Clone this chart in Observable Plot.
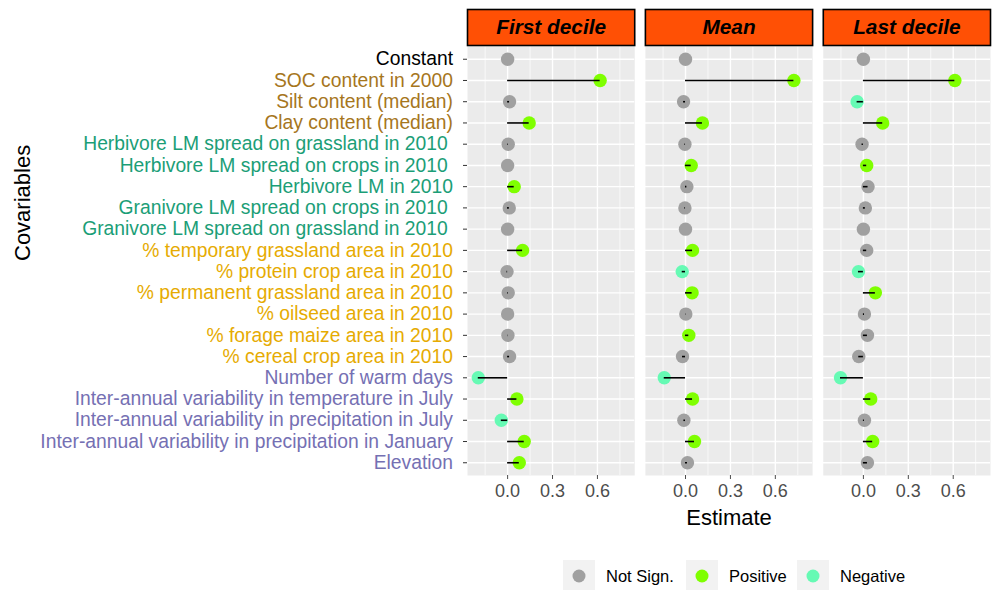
<!DOCTYPE html>
<html>
<head>
<meta charset="utf-8">
<script src="https://cdn.jsdelivr.net/npm/d3@7"></script>
<script src="https://cdn.jsdelivr.net/npm/@observablehq/plot@0.6"></script>
<style>
  html, body { margin: 0; padding: 0; background: #fff; overflow: hidden; }
  #chart svg { overflow: visible; display: block; }
  #legend { position: relative; height: 34px; font-family: "Liberation Sans", Arial, sans-serif; font-size: 16.5px; color: #000; }
  .item { position: absolute; top: 4px; display: flex; align-items: center; }
  .key { width: 32px; height: 32px; background: #F2F2F2; display: flex; align-items: center; justify-content: center; margin-right: 11px; }
</style>
</head>
<body>
<div id="chart"></div>
<div id="legend"></div>
<script>
const facets = ["First decile", "Mean", "Last decile"];

const covariables = [
  "Constant",
  "SOC content in 2000",
  "Silt content (median)",
  "Clay content (median)",
  "Herbivore LM spread on grassland in 2010\u00a0",
  "Herbivore LM spread on crops in 2010\u00a0",
  "Herbivore LM in 2010",
  "Granivore LM spread on crops in 2010\u00a0",
  "Granivore LM spread on grassland in 2010\u00a0",
  "% temporary grassland area in 2010",
  "% protein crop area in 2010",
  "% permanent grassland area in 2010",
  "% oilseed area in 2010",
  "% forage maize area in 2010",
  "% cereal crop area in 2010",
  "Number of warm days",
  "Inter-annual variability in temperature in July",
  "Inter-annual variability in precipitation in July",
  "Inter-annual variability in precipitation in January",
  "Elevation"
];

const covariableGroup = [
  "Constant",
  "Soil", "Soil", "Soil",
  "Livestock", "Livestock", "Livestock", "Livestock", "Livestock",
  "Crop", "Crop", "Crop", "Crop", "Crop", "Crop",
  "Climate", "Climate", "Climate", "Climate", "Climate"
];

const groupNames = ["Constant", "Soil", "Livestock", "Crop", "Climate"];
const groupColors = ["#000000", "#A6761D", "#1B9E77", "#E6AB02", "#7570B3"];

const estimatesFirst = [0.000, 0.618, 0.013, 0.144, 0.004, 0.000, 0.044, 0.011, 0.000, 0.100,
                        -0.004, 0.004, 0.000, 0.002, 0.013, -0.196, 0.062, -0.042, 0.111, 0.078];
const estimatesMean  = [0.000, 0.724, -0.013, 0.113, -0.004, 0.038, 0.009, -0.004, 0.000, 0.047,
                        -0.022, 0.044, 0.002, 0.022, -0.020, -0.142, 0.047, -0.011, 0.060, 0.013];
const estimatesLast  = [0.000, 0.611, -0.042, 0.129, -0.009, 0.022, 0.031, 0.013, 0.000, 0.022,
                        -0.033, 0.080, 0.007, 0.027, -0.031, -0.153, 0.049, 0.007, 0.062, 0.027];

const N = "Not Sign.", P = "Positive", M = "Negative";
const signifFirst = [N, P, N, P, N, N, P, N, N, P, N, N, N, N, N, M, P, M, P, P];
const signifMean  = [N, P, N, P, N, P, N, N, N, P, M, P, N, P, N, M, P, N, P, N];
const signifLast  = [N, P, M, P, N, P, N, N, N, N, M, P, N, N, N, M, P, N, P, N];

const signifLevels = ["Not Sign.", "Positive", "Negative"];
const signifColors = ["#A0A0A0", "#7FFF00", "#66FAB4"];

const xTicks = [0, 0.3, 0.6];
const xMinorTicks = [-0.15, 0.15, 0.45, 0.75];
const xDomain = [-0.268, 0.849];

const estimates = [estimatesFirst, estimatesMean, estimatesLast];
const signifs = [signifFirst, signifMean, signifLast];
const rows = [];
facets.forEach((f, i) => {
  covariables.forEach((c, j) => {
    rows.push({facet: f, covariable: c, estimate: estimates[i][j], signif: signifs[i][j]});
  });
});

const font = "'Liberation Sans', Arial, sans-serif";

const labelMarks = groupNames.map((g, gi) =>
  Plot.text(covariables.filter((c, j) => covariableGroup[j] === g), {
    fx: () => facets[0],
    y: d => d,
    text: d => d,
    frameAnchor: "left",
    textAnchor: "end",
    dx: -14.5,
    fontSize: 19.3,
    fill: groupColors[gi]
  })
);

const chart = Plot.plot({
  width: 992,
  height: 556,
  marginLeft: 467,
  marginRight: 2,
  marginTop: 46,
  marginBottom: 81,
  style: {fontFamily: font, background: "white", overflow: "visible"},
  fx: {domain: facets, paddingInner: 0.06, paddingOuter: 0, round: false, axis: null},
  x: {domain: xDomain, axis: null},
  y: {type: "point", domain: covariables, padding: 0.6, round: false, axis: null},
  color: {domain: signifLevels, range: signifColors},
  marks: [
    Plot.frame({fill: "#EBEBEB", stroke: null}),
    Plot.gridX({ticks: xMinorTicks, stroke: "white", strokeOpacity: 1, strokeWidth: 0.7}),
    Plot.gridX({ticks: xTicks, stroke: "white", strokeOpacity: 1, strokeWidth: 1.4}),
    Plot.gridY({stroke: "white", strokeOpacity: 1, strokeWidth: 1.4}),
    Plot.dot(rows, {fx: "facet", x: "estimate", y: "covariable", fill: "signif", r: 6.7, stroke: null}),
    Plot.ruleY(rows, {fx: "facet", y: "covariable", x1: () => 0, x2: "estimate", stroke: "black", strokeWidth: 1.6}),
    Plot.axisX({ticks: xTicks, tickFormat: d3.format(".1f"), tickSize: 4, tickPadding: 5, fontSize: 18, color: "#4D4D4D", label: null}),
    Plot.axisY({tickSize: 4, tickFormat: () => "", color: "#333333", label: null}),
    ...labelMarks,
    Plot.text(["Estimate"], {fx: () => facets[1], text: d => d, frameAnchor: "bottom", dy: 42, lineAnchor: "middle", fontSize: 22, fill: "black"}),
    Plot.text(["Covariables"], {fx: () => facets[0], text: d => d, frameAnchor: "left", dx: -445, rotate: -90, lineAnchor: "middle", fontSize: 22, fill: "black"}),
    Plot.frame({fill: "#FF5005", stroke: "black", strokeWidth: 1.6, insetTop: -37, insetBottom: 430}),
    Plot.text(facets, {fx: d => d, text: d => d, frameAnchor: "top", dy: -19, lineAnchor: "middle", fontSize: 20.8, fontWeight: "bold", fontStyle: "italic", fill: "black"})
  ]
});
document.getElementById("chart").appendChild(chart);

// Legend
const legend = document.getElementById("legend");
const legendX = [563, 686, 797];
signifLevels.forEach((lvl, i) => {
  const item = document.createElement("div");
  item.className = "item";
  item.style.left = legendX[i] + "px";
  item.innerHTML = `<div class="key"><svg width="14" height="14"><circle cx="7" cy="7" r="6.5" fill="${signifColors[i]}"></circle></svg></div><span>${lvl}</span>`;
  legend.appendChild(item);
});
</script>
</body>
</html>
